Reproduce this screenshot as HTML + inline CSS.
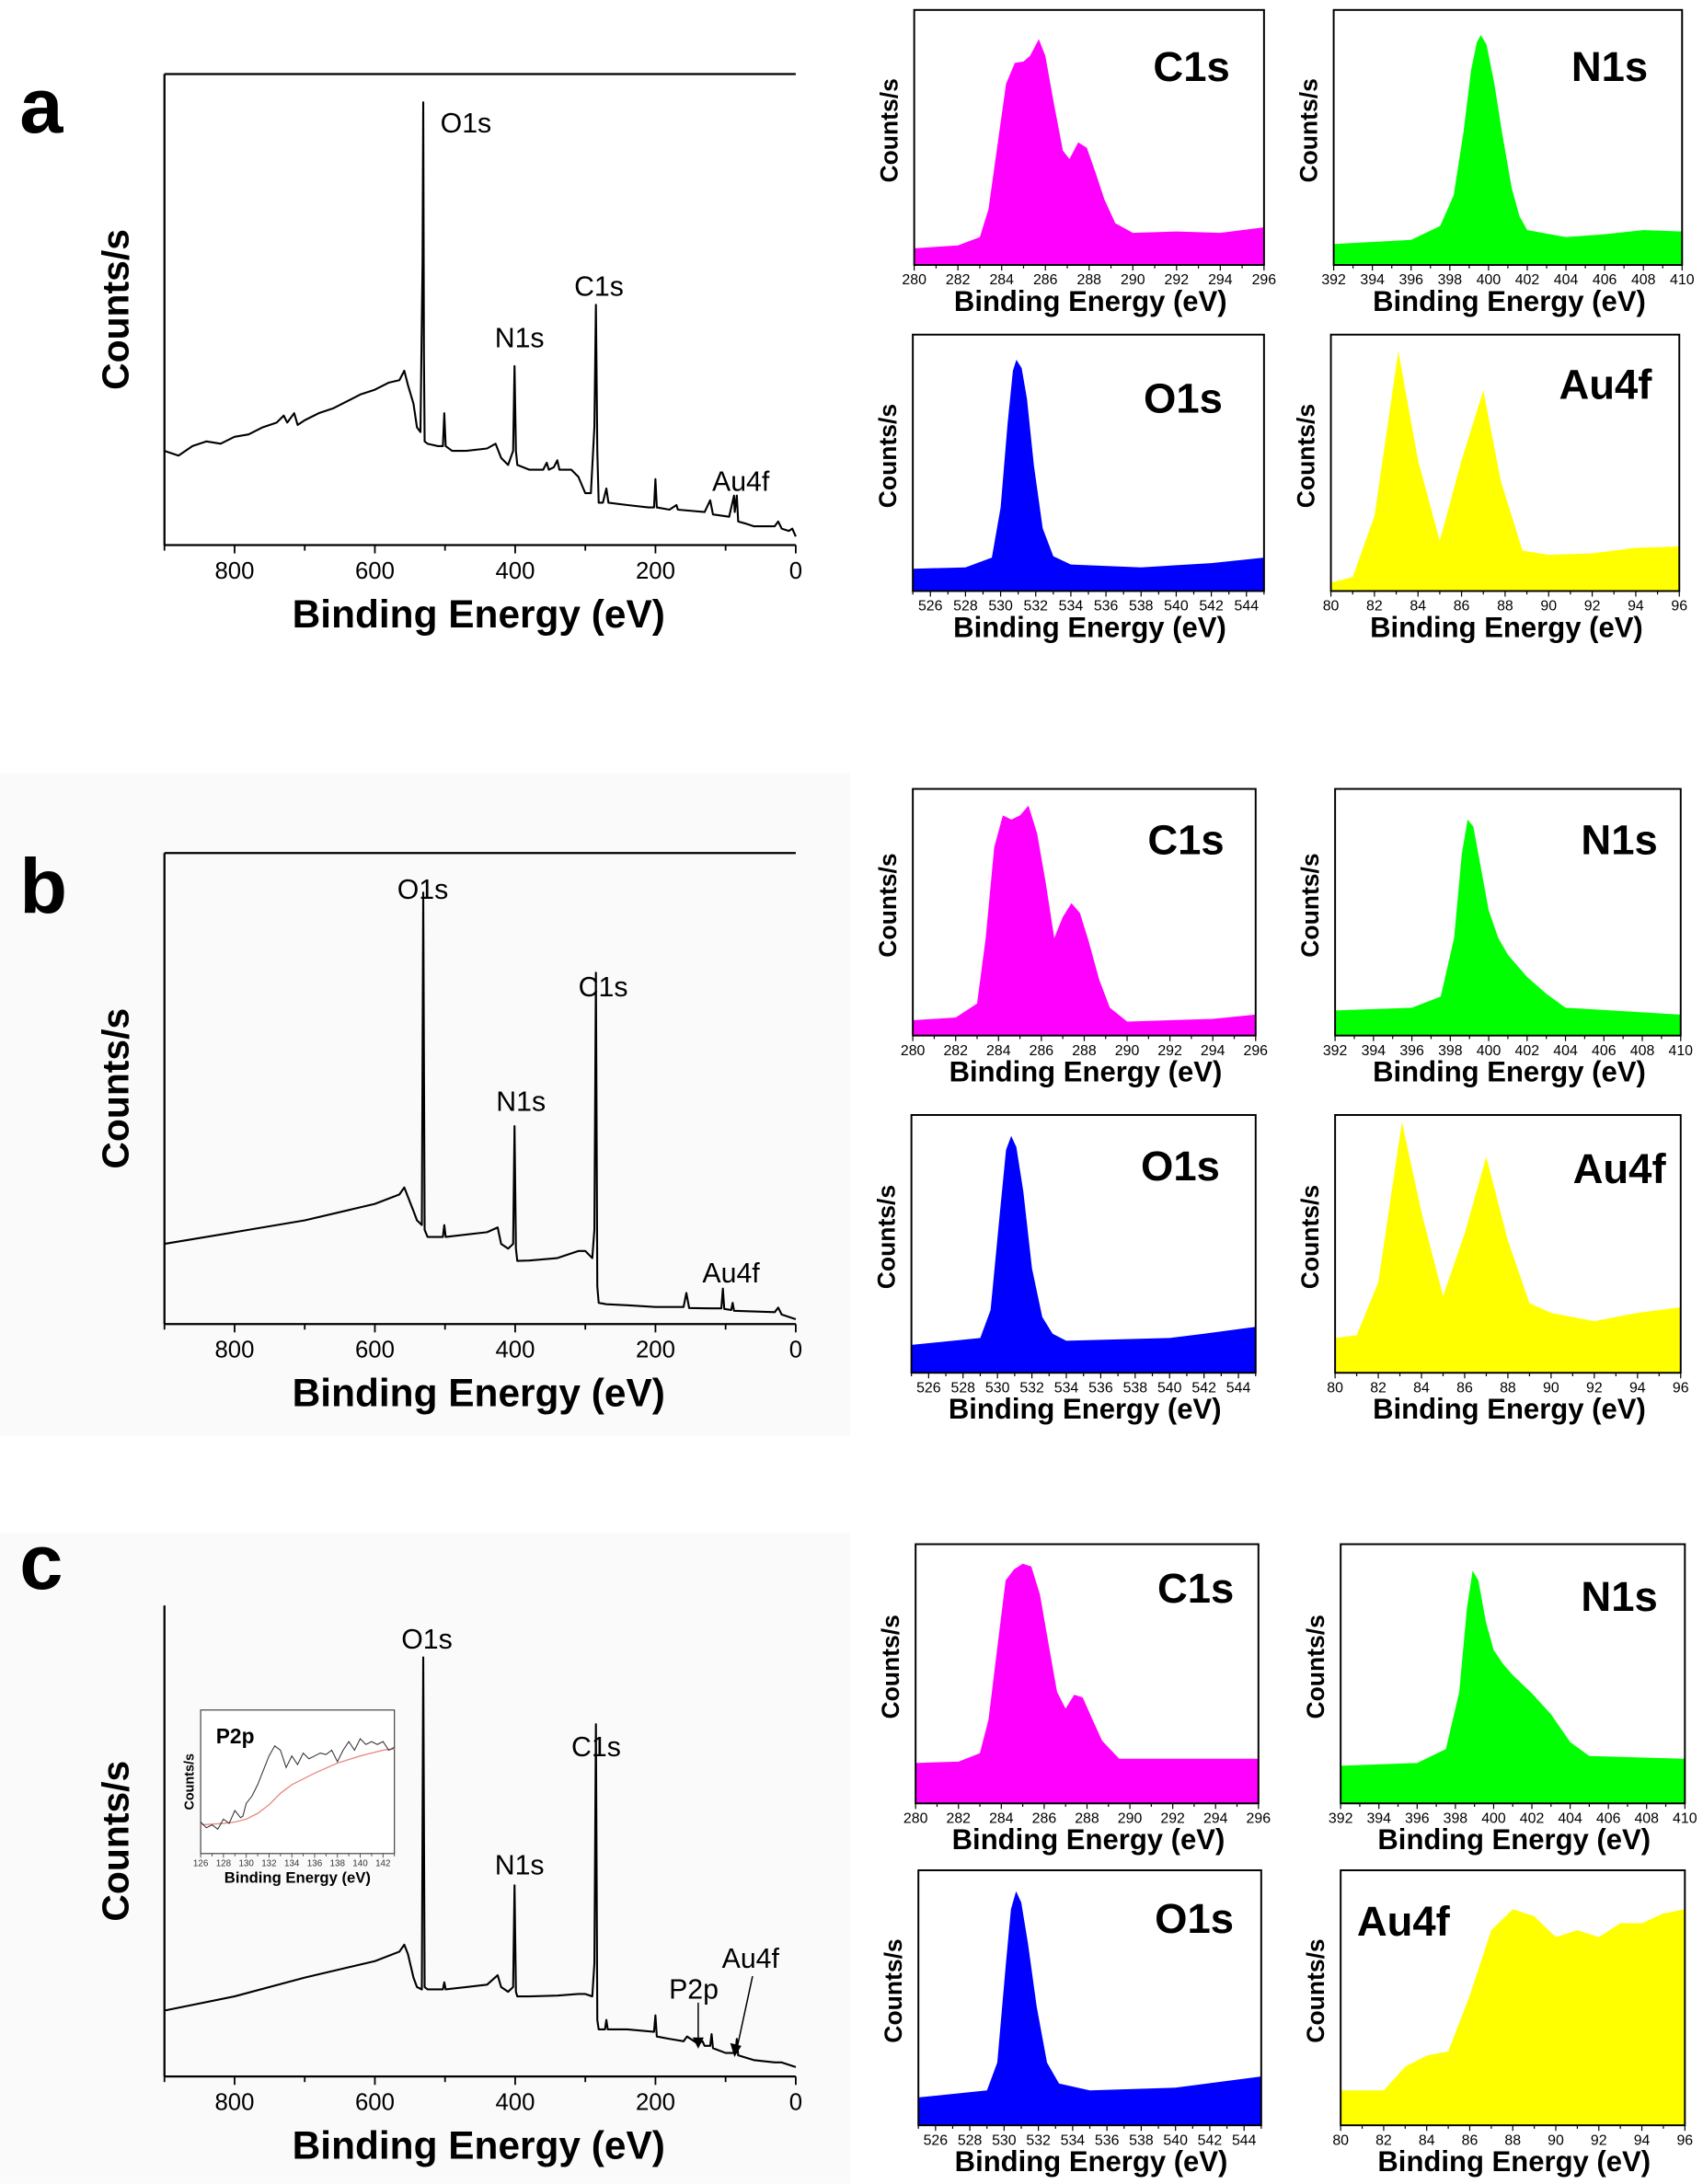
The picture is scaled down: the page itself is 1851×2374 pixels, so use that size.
<!DOCTYPE html>
<html><head><meta charset="utf-8"><style>
html,body{margin:0;padding:0;background:#fff;}
svg{display:block;font-family:"Liberation Sans",Arial,sans-serif;}
</style></head><body>
<svg id="fig" width="1851" height="2374" viewBox="0 0 1222 1567" xmlns="http://www.w3.org/2000/svg">
<rect x="0" y="0" width="1222" height="1567" fill="#fff"/>
<rect x="0" y="555" width="610" height="475" fill="#fafafa"/>
<rect x="0" y="1100" width="610" height="467" fill="#fafafa"/>
</svg>
<script>
// ---------- survey data (binding energy eV, counts a.u. 0-100) ----------
const surveyA_E=[900,880,860,840,820,800,780,760,740,730,725,715,710,700,680,660,640,620,600,580,565,558,553,545,540,535,532,531,530,529,525,510,503,501,499,490,470,440,428,420,410,403,401,399,397,380,360,355,352,345,340,337,320,310,300,292,287,285,283,281,275,270,267,240,210,202,200,198,180,170,168,130,122,118,95,88,87,84,82,70,60,30,25,20,10,5,0];
const surveyA_V=[20,19,21,22,21.5,23,23.5,25,26,27.5,26,28,25.5,26.5,28,29,30.5,32,33,34.5,35,37,34,30,25,24,60,94,40,22,21.5,21,21,28,21,20,20,20.5,21.5,18.5,17,20,38,20,17,16,16,17.5,16,16.5,18,16,16,14.5,11,11,25,51,20,9,9,12,9,8.5,8,8,14,8,7.5,8.5,7.5,7,9.5,6.5,6,10.5,7,10.5,5,4.5,4,4,5,3.5,3,3.5,1.8];
const surveyB_E=[900,800,700,600,565,558,553,545,540,533,531,529,525,503,501,499,440,425,420,410,403,401,399,397,380,340,310,300,290,287,285,283,281,270,240,200,160,156,152,120,106,104,102,92,90,88,30,25,20,0];
const surveyB_V=[17,19.5,22,25.5,27.5,29,27,24,22,21,91.6,20,18.5,18.5,21,18.5,19.5,20.5,17,16,17,42,16,13.4,13.5,14,15.5,15.5,14,20,74.6,8,4.5,4.2,4,3.6,3.6,6.6,3.4,3.3,3.3,7.5,3.2,3,4.5,2.8,2.5,3.5,2,1];
const surveyC_E=[900,800,700,600,565,558,553,545,540,533,531,529,525,503,501,499,440,425,420,410,403,401,399,397,380,340,310,300,290,287,285,283,281,272,270,268,240,202,200,198,180,160,155,140,133,130,122,120,118,100,86,84,82,60,30,20,0];
const surveyC_V=[14,17,21,24.5,26.5,28,26,21,19,18.5,89,19,18.5,18.5,20,18.5,19.5,21.5,19,18,19,40.6,18,17,17,17.2,17.5,17.5,17,24,74.8,12,10,10,12,10,10,9.5,13,8.5,8,7.5,8.5,7,7.5,6.5,6.5,9,6,5,5,8,4.5,3.5,3,3,2];
// ---------- high resolution data (energy eV, counts a.u.) ----------
const aC_E=[280,282,283,283.4,283.8,284.2,284.6,285,285.3,285.7,286,286.4,286.8,287.1,287.5,287.9,288.3,288.7,289.2,290,292,294,296];
const aC_V=[12,14,20,40,85,130,145,146,150,162,150,115,82,76,88,84,66,47,30,23,24,23,27];
const aN_E=[392,396,397.5,398.2,398.7,399.1,399.4,399.6,399.9,400.3,400.7,401.2,401.6,402,404,406,408,410];
const aN_V=[15,18,28,50,95,140,160,165,158,130,95,55,35,25,20,22,25,24];
const aO_E=[525,528,529.5,530,530.4,530.7,530.9,531.2,531.5,531.9,532.4,533,534,538,542,545];
const aO_V=[16,17,24,60,120,158,166,160,138,90,45,25,19,17,20,24];
const aAu_E=[80,81,82,83.1,84,85,86,87,87.8,88.8,90,92,94,96];
const aAu_V=[6,10,54,172,94,36,94,144,79,29,26,27,31,32];
const bC_E=[280,282,283,283.4,283.8,284.2,284.6,285,285.4,285.8,286.2,286.6,287,287.4,287.8,288.2,288.7,289.2,290,294,296];
const bC_V=[11,13,23,70,135,158,155,158,165,145,110,70,85,95,88,68,40,20,10,12,15];
const bN_E=[392,396,397.5,398.2,398.6,398.9,399.2,399.6,400,400.5,401,402,403,404,410];
const bN_V=[18,20,28,70,130,155,150,120,90,70,58,42,30,20,15];
const bO_E=[525,529,529.6,530.1,530.5,530.8,531.1,531.5,532,532.6,533.2,534,540,542,545];
const bO_V=[20,25,45,110,160,170,162,130,75,40,28,23,25,28,33];
const bAu_E=[80,81,82,83.1,84,85,86,87,88,89,90,92,94,96];
const bAu_V=[25,27,65,180,115,55,100,155,95,50,43,37,43,47];
const cC_E=[280,282,283,283.4,283.8,284.2,284.6,285,285.4,285.8,286.2,286.6,287,287.4,287.8,288.2,288.7,289.5,296];
const cC_V=[29,30,36,60,110,160,168,172,170,150,115,80,68,78,76,62,45,32,32];
const cN_E=[392,396,397.5,398.2,398.6,398.9,399.2,399.6,400,400.5,401,402,403,404,405,410];
const cN_V=[27,29,39,80,140,167,160,130,110,100,92,79,64,44,34,32];
const cO_E=[525,529,529.6,530.1,530.4,530.7,531,531.4,531.9,532.5,533.2,535,540,545];
const cO_V=[20,25,45,115,155,168,160,130,85,45,30,25,27,35];
const cAu_E=[80,82,83,84,85,86,87,88,89,90,91,92,93,94,95,96];
const cAu_V=[25,25,42,50,53,93,140,155,150,135,140,135,145,145,152,155];
// ---------- inset P2p ----------
const p2p_E=[126,126.5,127,127.5,128,128.5,129,129.5,129.7,130,130.5,131,131.5,132,132.5,133,133.5,134,134.5,135,135.5,136,136.5,137,137.5,138,138.5,139,139.5,140,140.5,141,141.5,142,142.5,143];
const p2p_V=[22,18,20,17,24,21,30,25,26,35,40,48,58,68,75,72,60,68,62,70,66,68,70,69,72,64,72,78,72,80,76,78,76,78,72,74];
const p2pBg_E=[126,128,129,130,131,132,133,134,136,138,140,142,143];
const p2pBg_V=[20,21,22,24,28,34,42,48,56,63,68,72,73];

const svg=document.getElementById('fig');
const NS='http://www.w3.org/2000/svg';
function mk(tag,attrs,parent){const e=document.createElementNS(NS,tag);for(const k in attrs)e.setAttribute(k,attrs[k]);(parent||svg).appendChild(e);return e;}
function txt(s,attrs,parent){const e=mk('text',attrs,parent);e.textContent=s;return e;}

function survey(name,letter,letterY,top,E,V,showTop,labels){
  const g=mk('g',{});
  
  
  const L=118,R=571,B=top+338;
  const x=e=>R-(e/900)*(R-L);
  const y=v=>B-(v/100)*(B-top);
  const lt=txt(letter,{x:14,y:letterY,'font-size':56,'font-weight':'bold'},g);
  
  
  if(showTop){const tl=mk('line',{x1:L,y1:top,x2:R,y2:top,stroke:'#000','stroke-width':1.5},g);
    
    }
  const ya=mk('line',{x1:L,y1:top,x2:L,y2:B,stroke:'#000','stroke-width':1.5},g);
  
  
  const xa=mk('line',{x1:L,y1:B,x2:R,y2:B,stroke:'#000','stroke-width':1.5},g);
  
  
  for(let e=900;e>=0;e-=100){mk('line',{x1:x(e),y1:B,x2:x(e),y2:B+(e%200===0?6:4),stroke:'#000','stroke-width':1.2},g);
    if(e%200===0&&e<900){const t=txt(String(e),{x:x(e),y:B+24,'font-size':17,'text-anchor':'middle'},g);
      
      }}
  const xt=txt('Binding Energy (eV)',{x:(L+R)/2-1,y:B+59,'font-size':28,'font-weight':'bold','text-anchor':'middle'},g);
  
  
  const yt=txt('Counts/s',{x:0,y:0,'font-size':27,'font-weight':'bold','text-anchor':'middle',transform:`translate(${L-26},${(top+B)/2}) rotate(-90)`},g);
  
  
  const pts=E.map((e,i)=>x(e).toFixed(1)+','+y(V[i]).toFixed(1)).join(' ');
  const pl=mk('polyline',{points:pts,fill:'none',stroke:'#000','stroke-width':1.4,'stroke-linejoin':'round'},g);
  
  
  labels.forEach(l=>{const t=txt(l[0],{x:l[1],y:l[2],'font-size':20},g);
    
    });
}
survey('a','a',95,53,surveyA_E,surveyA_V,true,[['O1s',316,95],['N1s',355,249],['C1s',412,212],['Au4f',511,352]]);
survey('b','b',655,612,surveyB_E,surveyB_V,true,[['O1s',285,645],['N1s',356,797],['C1s',415,715],['Au4f',504,920]]);
survey('c','c',1140,1152,surveyC_E,surveyC_V,false,[['O1s',288,1183],['N1s',355,1345],['C1s',410,1260],['P2p',480,1434],['Au4f',518,1412]]);
const a1=mk('line',{x1:501,y1:1437,x2:501,y2:1466,stroke:'#000','stroke-width':1});


mk('polygon',{points:'497,1462 505,1462 501,1470',fill:'#000'});
const a2=mk('line',{x1:540,y1:1418,x2:529,y2:1469,stroke:'#000','stroke-width':1});


mk('polygon',{points:'524,1466 532,1468 527,1476',fill:'#000'});

(function(){
  const g=mk('g',{});
  
  
  const L=144,R=283,T=1227,B=1330;
  const x=e=>L+(e-126)/17*(R-L);
  const y=v=>B-v/100*(B-T);
  mk('rect',{x:L,y:T,width:R-L,height:B-T,fill:'#fff',stroke:'#444','stroke-width':0.8},g);
  for(let e=126;e<=143;e++){mk('line',{x1:x(e),y1:B,x2:x(e),y2:B+(e%2===0?3:2),stroke:'#444','stroke-width':0.6},g);
    if(e%2===0){const t=txt(String(e),{x:x(e),y:B+9,'font-size':6.5,'text-anchor':'middle',fill:'#333'},g);
      
      }}
  const bg=mk('polyline',{points:p2pBg_E.map((e,i)=>x(e)+','+y(p2pBg_V[i])).join(' '),fill:'none',stroke:'#e88a84','stroke-width':0.9},g);
  
  
  const ln=mk('polyline',{points:p2p_E.map((e,i)=>x(e)+','+y(p2p_V[i])).join(' '),fill:'none',stroke:'#333','stroke-width':0.7},g);
  
  
  const t1=txt('P2p',{x:155,y:1251,'font-size':15,'font-weight':'bold'},g);
  
  
  const t2=txt('Binding Energy (eV)',{x:(L+R)/2,y:1351,'font-size':11,'font-weight':'bold','text-anchor':'middle'},g);
  
  
  const t3=txt('Counts/s',{x:0,y:0,'font-size':9.5,'font-weight':'bold','text-anchor':'middle',transform:`translate(${L-5},${(T+B)/2}) rotate(-90)`},g);
  
  
})();

function hr(name,L,R,T,B,emin,emax,E,V,color,label,lx,ly){
  const g=mk('g',{});
  
  
  const ymax=B-T;
  const x=e=>L+(e-emin)/(emax-emin)*(R-L);
  const y=v=>B-v/ymax*(B-T);
  const pts=E.map((e,i)=>x(e).toFixed(1)+','+y(V[i]).toFixed(1));
  const area=mk('polygon',{points:x(E[0])+','+B+' '+pts.join(' ')+' '+x(E[E.length-1])+','+B,fill:color},g);
  
  
  const fr=mk('rect',{x:L,y:T,width:R-L,height:B-T,fill:'none',stroke:'#000','stroke-width':1.3},g);
  
  
  for(let e=emin;e<=emax+1e-6;e+=1){
    mk('line',{x1:x(e),y1:B,x2:x(e),y2:B+(e%2===0?4:2.5),stroke:'#000','stroke-width':0.8},g);
    if(e%2===0){const t=txt(String(e),{x:x(e),y:B+14,'font-size':10.5,'text-anchor':'middle'},g);
      
      }}
  const xt=txt('Binding Energy (eV)',{x:(L+R)/2+1,y:B+33,'font-size':20.5,'font-weight':'bold','text-anchor':'middle'},g);
  
  
  const yt=txt('Counts/s',{x:0,y:0,'font-size':17.5,'font-weight':'bold','text-anchor':'middle',transform:`translate(${L-12},${(T+B)/2-5}) rotate(-90)`},g);
  
  
  const lt=txt(label,{x:lx,y:ly,'font-size':30,'font-weight':'bold','text-anchor':'middle'},g);
  
  
}
const MAG='#ff00ff',GRN='#00ff00',BLU='#0000ff',YEL='#ffff00';
hr('a-c1s',656,907,7,190,280,296,aC_E,aC_V,MAG,'C1s',855,58);
hr('a-n1s',957,1207,7,190,392,410,aN_E,aN_V,GRN,'N1s',1155,58);
hr('a-o1s',655,907,240,424,525,545,aO_E,aO_V,BLU,'O1s',849,296);
hr('a-au4f',955,1205,240,424,80,96,aAu_E,aAu_V,YEL,'Au4f',1152,286);
hr('b-c1s',655,901,566,743,280,296,bC_E,bC_V,MAG,'C1s',851,613);
hr('b-n1s',958,1206,566,743,392,410,bN_E,bN_V,GRN,'N1s',1162,613);
hr('b-o1s',654,901,800,985,525,545,bO_E,bO_V,BLU,'O1s',847,847);
hr('b-au4f',958,1206,800,985,80,96,bAu_E,bAu_V,YEL,'Au4f',1162,849);
hr('c-c1s',657,903,1108,1294,280,296,cC_E,cC_V,MAG,'C1s',858,1150);
hr('c-n1s',962,1209,1108,1294,392,410,cN_E,cN_V,GRN,'N1s',1162,1156);
hr('c-o1s',659,905,1342,1525,525,545,cO_E,cO_V,BLU,'O1s',857,1387);
hr('c-au4f',962,1209,1342,1525,80,96,cAu_E,cAu_V,YEL,'Au4f',1007,1389);
</script>
</body></html>
